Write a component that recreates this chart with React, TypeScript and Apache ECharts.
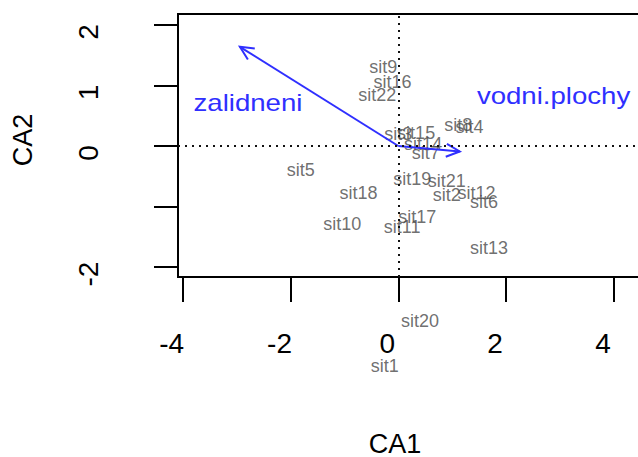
import React, { useEffect, useRef } from "react";
import * as echarts from "echarts";

const siteNames = ["sit1","sit2","sit3","sit4","sit5","sit6","sit7","sit8","sit9","sit10","sit11","sit12","sit13","sit14","sit15","sit16","sit17","sit18","sit19","sit20","sit21","sit22"];
const siteCA1 = [-0.25, 0.90, 0.00, 1.32, -1.81, 1.59, 0.51, 1.11, -0.28, -1.04, 0.07, 1.45, 1.68, 0.46, 0.33, -0.11, 0.35, -0.74, 0.26, 0.40, 0.90, -0.39];
const siteCA2 = [-3.64, -0.81, 0.20, 0.32, -0.40, -0.93, -0.12, 0.35, 1.31, -1.29, -1.34, -0.78, -1.69, 0.04, 0.21, 1.05, -1.17, -0.77, -0.55, -2.89, -0.57, 0.84];

const speciesNames = ["zalidneni", "vodni.plochy"];
const speciesArrowCA1 = [-2.94, 1.14];
const speciesArrowCA2 = [1.64, -0.09];
const speciesLabelCA1 = [-2.79, 2.88];
const speciesLabelCA2 = [0.71, 0.83];

const xTicks = [-4, -2, 0, 2, 4];
const yTicks = [-2, -1, 0, 1, 2];
const yTickLabels = [-2, 0, 1, 2];

const FONT = "'Liberation Sans', Arial, sans-serif";
const BLUE = "#2f2fff";

export default function App() {
  const ref = useRef<HTMLDivElement>(null);
  useEffect(() => {
    document.body.style.margin = "0";
    document.body.style.overflow = "hidden";
    document.documentElement.style.overflow = "hidden";
    if (!ref.current) return;
    const chart = echarts.init(ref.current, undefined, { renderer: "svg" });
    const gridLeft = 178;
    const gridWidth = 482;
    const xMin = -4.088;
    const xMax = xMin + gridWidth / 53.9;
    const option: any = {
      animation: false,
      textStyle: { fontFamily: FONT },
      grid: {
        left: gridLeft, top: 14, width: gridWidth, height: 263,
        show: true, borderColor: "#000", borderWidth: 2, backgroundColor: "transparent",
      },
      xAxis: {
        type: "value", min: xMin, max: xMax, position: "bottom",
        axisLine: { show: false, onZero: false }, splitLine: { show: false },
        axisTick: { show: true, customValues: xTicks, length: 25, lineStyle: { color: "#000", width: 2 } },
        axisLabel: { customValues: xTicks, fontSize: 28, color: "#000", margin: 52, padding: [0, 22, 0, 0], fontFamily: FONT },
      },
      yAxis: {
        type: "value", min: -2.165, max: 2.182, position: "left",
        axisLine: { show: false, onZero: false }, splitLine: { show: false },
        axisTick: { show: true, customValues: yTicks, length: 24, lineStyle: { color: "#000", width: 2 } },
        axisLabel: { customValues: yTickLabels, fontSize: 28, color: "#000", margin: 76, rotate: 90, padding: [0, 14, 0, 0], fontFamily: FONT },
      },
      graphic: [
        { type: "text", x: 395, y: 444, style: { text: "CA1", fontSize: 27, fill: "#000", align: "center", verticalAlign: "middle", fontFamily: FONT } },
        { type: "text", x: 23, y: 140, rotation: Math.PI / 2, style: { text: "CA2", fontSize: 27, fill: "#000", align: "center", verticalAlign: "middle", fontFamily: FONT } },
      ],
      series: [
        {
          type: "scatter",
          clip: false,
          symbol: "circle",
          symbolSize: 1,
          itemStyle: { color: "transparent" },
          data: siteNames.map((n, i) => ({ name: n, value: [siteCA1[i], siteCA2[i]] })),
          label: { show: true, position: "inside", formatter: "{b}", fontSize: 18, color: "#4a4a4a", fontFamily: FONT },
          markLine: {
            silent: true, symbol: "none", label: { show: false },
            lineStyle: { type: [2, 5], color: "#111", width: 2 },
            data: [{ xAxis: 0 }, { yAxis: 0 }],
          },
          z: 3,
        },
        {
          type: "custom",
          coordinateSystem: "cartesian2d",
          clip: false,
          z: 4,
          data: speciesNames.map((n, i) => [speciesArrowCA1[i], speciesArrowCA2[i], speciesLabelCA1[i], speciesLabelCA2[i]]),
          renderItem: (params: any, api: any) => {
            const o = api.coord([0, 0]);
            const e = api.coord([api.value(0), api.value(1)]);
            const l = api.coord([api.value(2), api.value(3)]);
            const ang = Math.atan2(e[1] - o[1], e[0] - o[0]);
            const h = 15, a = Math.PI / 7;
            const p1 = [e[0] - h * Math.cos(ang - a), e[1] - h * Math.sin(ang - a)];
            const p2 = [e[0] - h * Math.cos(ang + a), e[1] - h * Math.sin(ang + a)];
            return {
              type: "group",
              children: [
                { type: "line", shape: { x1: o[0], y1: o[1], x2: e[0], y2: e[1] }, style: { stroke: BLUE, lineWidth: 2 } },
                { type: "polyline", shape: { points: [p1, e, p2] }, style: { stroke: BLUE, lineWidth: 2, fill: "none" } },
                {
                  type: "text", x: l[0], y: l[1], scaleX: 1.2,
                  style: { text: speciesNames[params.dataIndex], fontSize: 23, fill: BLUE, align: "center", verticalAlign: "middle", fontFamily: FONT },
                },
              ],
            };
          },
        },
      ],
    };
    chart.setOption(option);
    return () => chart.dispose();
  }, []);
  return <div ref={ref} style={{ width: 660, height: 457 }} />;
}
